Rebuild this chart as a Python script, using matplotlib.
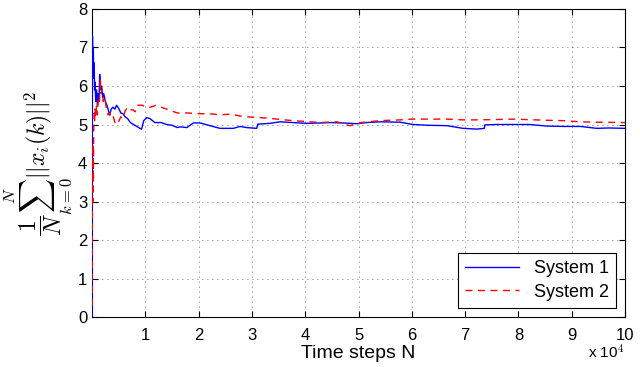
import numpy as np
import matplotlib
matplotlib.use("Agg")
import matplotlib.pyplot as plt

plt.rcParams['font.family'] = ['Liberation Sans', 'DejaVu Sans']
plt.rcParams['mathtext.fontset'] = 'cm'
plt.rcParams['path.simplify'] = False

# System 1 (blue, solid)
n1 = [1, 80, 160, 240, 320, 400, 480, 560, 700, 850, 1000, 1150, 1300, 1440,
      1600, 1800, 2000, 2200, 2500, 2800, 3100, 3300, 3600, 3900, 4300, 4600,
      5000, 5400, 5800, 6200, 6700, 7200, 7800, 8400, 9000, 9300, 9700, 10300,
      10900, 11800, 13000, 14000, 15000, 16000, 16500, 17800, 19000, 20300,
      22100, 24000, 26500, 27800, 29000, 30900, 31100, 33400, 35300, 37700,
      40300, 42800, 44700, 47100, 49700, 51500, 54000, 57800, 60200, 63000,
      66600, 69600, 72200, 73600, 73700, 76000, 79000, 82000, 85300, 88400,
      91600, 94700, 97000, 100000]
v1 = [0.0, 7.3, 6.6, 7.0, 6.2, 6.6, 5.9, 6.1, 5.6, 5.9, 5.5, 5.8, 5.6, 6.3,
      5.9, 6.0, 5.7, 5.8, 5.6, 5.5, 5.35, 5.25, 5.4, 5.45, 5.4, 5.5,
      5.42, 5.3, 5.28, 5.2, 5.15, 5.05, 5.0, 4.95, 4.9, 4.88, 5.1, 5.18,
      5.15, 5.05, 5.05, 5.0, 4.98, 4.92, 4.94, 4.92, 5.04, 5.04,
      4.97, 4.9, 4.9, 4.95, 4.92, 4.9, 5.01, 5.03, 5.07, 5.05,
      5.03, 5.04, 5.05, 5.04, 5.02, 5.05, 5.07, 5.06, 5.0, 4.98,
      4.97, 4.9, 4.88, 4.9, 4.99, 5.0, 5.0, 5.0, 4.96, 4.95,
      4.95, 4.9, 4.91, 4.9]

# System 2 (red, dashed)
n2 = [1, 40, 100, 150, 200, 260, 320, 400, 480, 560, 700, 850, 1000, 1200,
      1400, 1550, 1700, 1900, 2100, 2400, 2700, 3000, 3300, 3600, 4000, 4300,
      4700, 5000, 5400, 5800, 6200, 6700, 7100, 7700, 8100, 8500, 9500, 10000,
      11000, 12000, 13000, 14000, 15000, 16000, 16500, 17800, 20300, 22100,
      24000, 26000, 27800, 29000, 31500, 34000, 37700, 40000, 42800, 46000,
      47500, 48400, 50500, 54000, 57800, 60000, 66600, 69600, 72200, 76000,
      79000, 85300, 88400, 91600, 94700, 100000]
v2 = [0.3, 2.3, 3.8, 3.0, 4.5, 3.5, 4.9, 5.3, 5.1, 5.4, 5.2, 5.5, 5.25, 5.7,
      5.6, 6.2, 5.8, 5.9, 5.6, 5.7, 5.4, 5.25, 5.3, 5.15, 5.2, 5.05,
      5.0, 5.08, 5.2, 5.15, 5.35, 5.45, 5.38, 5.38, 5.33, 5.5, 5.5, 5.45,
      5.45, 5.5, 5.45, 5.4, 5.35, 5.3, 5.3, 5.3, 5.28, 5.28,
      5.25, 5.27, 5.22, 5.2, 5.18, 5.15, 5.1, 5.08, 5.05, 5.07,
      5.0, 4.97, 5.05, 5.1, 5.12, 5.14, 5.14, 5.12, 5.12, 5.13,
      5.14, 5.11, 5.1, 5.07, 5.06, 5.05]

xticks = [10000 * i for i in range(1, 11)]
xticklabels = [str(i) for i in range(1, 11)]

fig = plt.figure(figsize=(6.4, 3.67), dpi=100)
ax = fig.add_axes([0.1438, 0.1362, 0.8328, 0.8393])

ax.plot(n1, v1, color='blue', lw=1.0, label='System 1', zorder=3)
ax.plot(n2, v2, color='red', lw=1.0, ls=(0, (5, 4)), label='System 2', zorder=3)

ax.set_xlim(1, 100000)
ax.set_ylim(0, 8)
ax.set_xticks(xticks)
ax.set_xticklabels(xticklabels)
ax.set_yticks(range(0, 9))
ax.tick_params(direction='in', top=True, right=True, labelsize=12, length=4)
ax.tick_params(axis='x', pad=8)
ax.grid(True, color='0.25', ls=(0, (1, 5)), lw=0.6)
for s in ax.spines.values():
    s.set_linewidth(0.8)

ax.set_xlabel('Time steps N', fontsize=14, labelpad=1)
ax.set_ylabel(r'$\dfrac{1}{N}\sum_{k=0}^{N}||x_i(k)||^2$', fontsize=17, labelpad=3)
fig.text(0.976, 0.015, r'x 10$^{4}$', ha='right', va='bottom', fontsize=11)

leg = ax.legend(loc='lower right', fontsize=13, fancybox=False, framealpha=1,
                edgecolor='black', handlelength=3.0, borderaxespad=0.5,
                borderpad=0.4, labelspacing=0.35)
leg.get_frame().set_linewidth(0.8)

fig.savefig('out.png', dpi=100)
